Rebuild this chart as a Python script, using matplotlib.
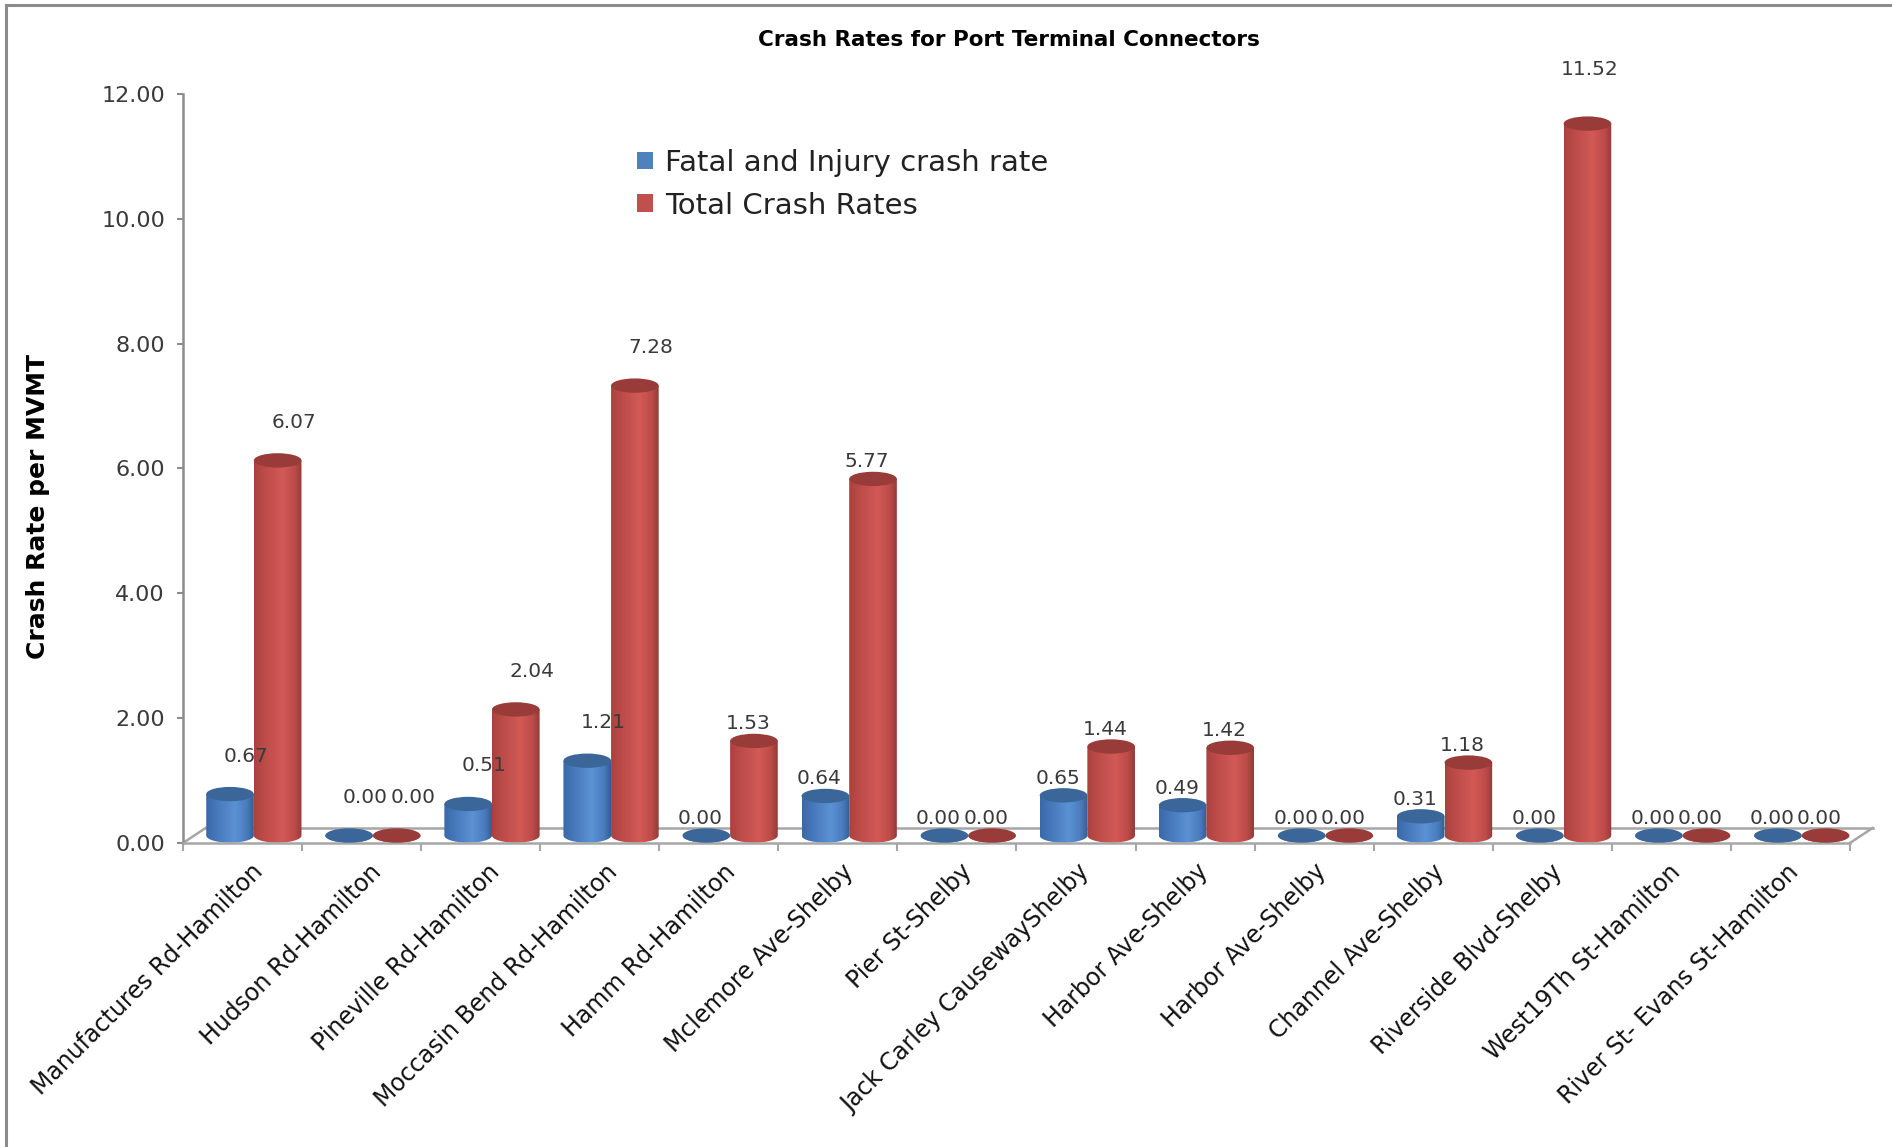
import numpy as np
import matplotlib
matplotlib.use('Agg')
import matplotlib.pyplot as plt
from matplotlib.patches import Ellipse, PathPatch, Patch
from matplotlib.path import Path
from matplotlib.colors import LinearSegmentedColormap
from matplotlib.lines import Line2D
from matplotlib.transforms import ScaledTranslation

# Crash rates per connector (per million vehicle miles travelled)
connectors = ['Manufactures Rd-Hamilton', 'Hudson Rd-Hamilton', 'Pineville Rd-Hamilton',
              'Moccasin Bend Rd-Hamilton', 'Hamm Rd-Hamilton', 'Mclemore Ave-Shelby',
              'Pier St-Shelby', 'Jack Carley CausewayShelby', 'Harbor Ave-Shelby',
              'Harbor Ave-Shelby', 'Channel Ave-Shelby', 'Riverside Blvd-Shelby',
              'West19Th St-Hamilton', 'River St- Evans St-Hamilton']
fatal_injury = [0.67, 0.00, 0.51, 1.21, 0.00, 0.64, 0.00, 0.65, 0.49, 0.00, 0.31, 0.00, 0.00, 0.00]
total_rate = [6.07, 0.00, 2.04, 7.28, 1.53, 5.77, 0.00, 1.44, 1.42, 0.00, 1.18, 11.52, 0.00, 0.00]
series_names = ['Fatal and Injury crash rate', 'Total Crash Rates']
y_ticks = [0, 2, 4, 6, 8, 10, 12]

plt.rcParams['font.family'] = ['DejaVu Sans']

DPI = 100
fig = plt.figure(figsize=(18.92, 11.47), dpi=DPI)
ax = fig.add_axes([0.08414, 0.21063, 0.91253, 0.73468])

Y_MAX = 12
DX, DY = 0.19, 0.24      # depth of the floor (category units, value units)
BAR_W = 0.40
ELL = 0.115              # half height of the cylinder caps

blue_cmap = LinearSegmentedColormap.from_list(
    'blue_cyl', [(0, '#3a69a8'), (0.2, '#4576b9'), (0.6, '#5b92d4'), (0.85, '#4a7cbd'), (1, '#335d94')])
red_cmap = LinearSegmentedColormap.from_list(
    'red_cyl', [(0, '#aa413e'), (0.2, '#bb4b48'), (0.6, '#d25956'), (0.85, '#bd4b48'), (1, '#923a38')])
grad = np.linspace(0, 1, 256).reshape(1, -1)


def cylinder(x0, v, cmap, cap_color):
    base = DY / 2
    top = base + v * (1 - base / Y_MAX)
    xc = x0 + BAR_W / 2
    t = np.linspace(np.pi, 2 * np.pi, 80)
    arc = np.column_stack([xc + BAR_W / 2 * np.cos(t), base + ELL * np.sin(t)])
    verts = np.vstack([[x0, top], arc, [x0 + BAR_W, top], [x0, top]])
    clip = PathPatch(Path(verts, closed=True), transform=ax.transData,
                     facecolor='none', edgecolor='none')
    ax.add_patch(clip)
    im = ax.imshow(grad, extent=(x0, x0 + BAR_W, base - ELL, top), aspect='auto',
                   cmap=cmap, interpolation='bilinear', zorder=2)
    im.set_clip_path(clip)
    ax.add_patch(Ellipse((xc, top), BAR_W, 2 * ELL, facecolor=cap_color,
                         edgecolor='none', zorder=3))
    return xc, top


def label_offset(i, v):
    if i < 4:
        return 16, 38
    if v > 10:
        return 2, 54
    return -6, 17


n = len(connectors)
for i in range(n):
    left = i + 0.1 + DX / 2
    for k, (vals, cmap, cap) in enumerate([(fatal_injury, blue_cmap, '#3b6699'),
                                           (total_rate, red_cmap, '#983b39')]):
        xc, top = cylinder(left + k * BAR_W, vals[i], cmap, cap)
        dx, dy = label_offset(i, vals[i])
        ax.text(xc, top, f'{vals[i]:.2f}', ha='center', va='center', fontsize=14.5,
                color='#3a3a3a', zorder=5,
                transform=ax.transData + ScaledTranslation(dx / DPI, dy / DPI, fig.dpi_scale_trans))

# floor outline
floor = '#a6a6a6'
ax.plot([DX, n + DX], [DY, DY], color=floor, lw=1.8, zorder=1)
ax.plot([0, DX], [0, DY], color=floor, lw=1.8, zorder=1)
ax.plot([n, n + DX], [0, DY], color=floor, lw=1.8, zorder=1)

ax.set_xlim(-0.2, 14.3)
ax.set_ylim(-1.0, 12.5)

for s in ['top', 'right']:
    ax.spines[s].set_visible(False)
ax.spines['left'].set_position(('data', 0))
ax.spines['left'].set_bounds(0, Y_MAX)
ax.spines['left'].set_color('#8c8c8c')
ax.spines['left'].set_linewidth(1.8)
ax.spines['bottom'].set_position(('data', 0))
ax.spines['bottom'].set_bounds(0, n)
ax.spines['bottom'].set_color(floor)
ax.spines['bottom'].set_linewidth(1.8)

ax.set_yticks(y_ticks)
ax.set_yticklabels([f'{t:.2f}' for t in y_ticks])
ax.tick_params(axis='y', length=4, width=1.5, color='#8c8c8c', pad=9,
               labelsize=16, labelcolor='#3a3a3a')
ax.set_xticks(range(n + 1))
ax.set_xticklabels([])
ax.tick_params(axis='x', length=6, width=1.5, color=floor)

# category names, slanted under the floor
for i, name in enumerate(connectors):
    shift = (17 - i) / DPI
    ax.text(i + 0.5, 0, name, rotation=45, rotation_mode='anchor', ha='right', va='center',
            fontsize=17, color='#111111',
            transform=ax.transData + ScaledTranslation(shift, -25 / DPI, fig.dpi_scale_trans))

ax.set_ylabel('Crash Rate per MVMT', fontsize=18, fontweight='bold')
ax.yaxis.set_label_coords(-0.0632, 0.4728)

handles = [Patch(facecolor='#4f81bd'), Patch(facecolor='#c0504d')]
ax.legend(handles, series_names, loc='upper left', bbox_to_anchor=(637 / 1892, 1 - 149 / 1147),
          bbox_transform=fig.transFigure, frameon=False, fontsize=21, handlelength=0.55,
          handleheight=0.55, handletextpad=0.4, labelspacing=0.5, borderpad=0,
          borderaxespad=0, labelcolor='#222222')

fig.text(1009 / 1892, 1 - 40 / 1147, 'Crash Rates for Port Terminal Connectors',
         ha='center', va='center', fontsize=15.5, fontweight='bold')

# chart frame
fig.add_artist(Line2D([6 / 1892, 6 / 1892], [0, 1 - 5 / 1147], color='#8c8c8c', lw=2.2,
                      transform=fig.transFigure))
fig.add_artist(Line2D([6 / 1892, 1], [1 - 5 / 1147, 1 - 5 / 1147], color='#8c8c8c', lw=2.2,
                      transform=fig.transFigure))

fig.savefig('out.png', dpi=DPI)
